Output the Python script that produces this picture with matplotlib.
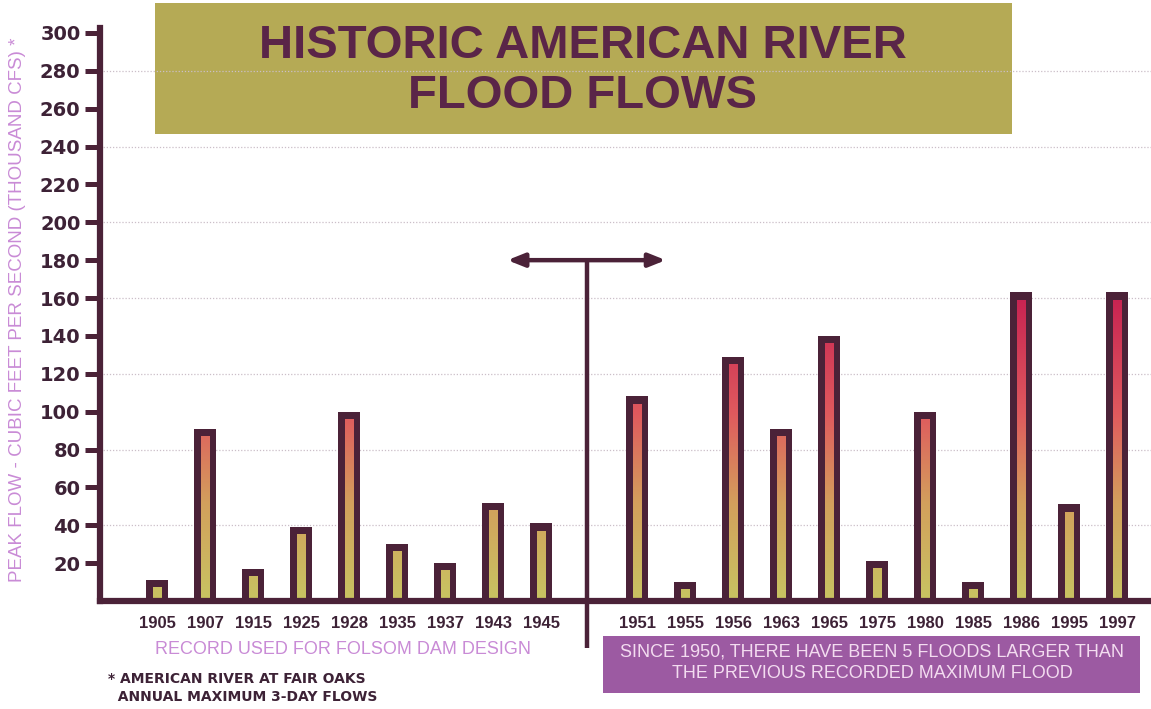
import numpy as np
import matplotlib
matplotlib.use("Agg")
import matplotlib.pyplot as plt
from matplotlib.colors import LinearSegmentedColormap
from matplotlib.patches import Rectangle

# ---- data ----
years_before = ["1905", "1907", "1915", "1925", "1928", "1935", "1937", "1943", "1945"]
flows_before = [11, 91, 17, 39, 100, 30, 20, 52, 41]
years_after = ["1951", "1955", "1956", "1963", "1965", "1975", "1980", "1985", "1986", "1995", "1997"]
flows_after = [108, 10, 129, 91, 140, 21, 100, 10, 163, 51, 163]
y_ticks = list(range(20, 301, 20))
grid_values = [40, 80, 120, 160, 200, 240, 280]

title = "HISTORIC AMERICAN RIVER\nFLOOD FLOWS"
ylabel = "PEAK FLOW - CUBIC FEET PER SECOND (THOUSAND CFS) *"
left_caption = "RECORD USED FOR FOLSOM DAM DESIGN"
right_caption = "SINCE 1950, THERE HAVE BEEN 5 FLOODS LARGER THAN\nTHE PREVIOUS RECORDED MAXIMUM FLOOD"
footnote = "* AMERICAN RIVER AT FAIR OAKS\n  ANNUAL MAXIMUM 3-DAY FLOWS"

DARK = "#4b2238"
TXT = "#3d2236"

W, H = 1151, 709
fig = plt.figure(figsize=(W / 100, H / 100), dpi=100)
fig.patch.set_facecolor("white")

def fx(px):
    return px / W

def fy(py):
    return 1 - py / H

ax = fig.add_axes([fx(100), fy(601), fx(1151) - fx(100), fy(28) - fy(601)])
ax.set_facecolor("none")
ax.set_zorder(2)

pos_before = list(range(len(years_before)))
pos_after = [len(years_before) + 1 + i for i in range(len(years_after))]
positions = pos_before + pos_after
years = years_before + years_after
flows = flows_before + flows_after

cmap = LinearSegmentedColormap.from_list(
    "flood", [(0.0, "#c8c462"), (0.3, "#d3a05c"), (0.58, "#df5a5e"), (1.0, "#c41a50")])
grad = np.linspace(0, 1, 256).reshape(-1, 1)

outer_w = 0.46
inner_w = 0.17
top_border = 3.8

ax.bar(positions, flows, width=outer_w, color=DARK, zorder=3, linewidth=0)
inner = ax.bar(positions, [f - top_border for f in flows], width=inner_w,
               color="none", linewidth=0, zorder=4)
for p, patch in zip(positions, inner.patches):
    im = ax.imshow(grad, extent=(p - inner_w / 2, p + inner_w / 2, 0, 170),
                   origin="lower", aspect="auto", cmap=cmap, zorder=4,
                   interpolation="bilinear")
    im.set_clip_path(patch)

ax.set_xlim(-57 / 48, (1151 - 157) / 48)
ax.set_ylim(0, 302.6)

# grid
for g in grid_values:
    ax.axhline(g, color="#cbbfc8", lw=0.9, ls=(0, (1, 1.5)), zorder=1)

# spines
for s in ["top", "right"]:
    ax.spines[s].set_visible(False)
ax.spines["left"].set_linewidth(4.5)
ax.spines["left"].set_color(DARK)
ax.spines["bottom"].set_linewidth(4.5)
ax.spines["bottom"].set_color(DARK)
ax.spines["bottom"].set_zorder(5)

ax.set_yticks(y_ticks)
ax.set_yticklabels([str(v) for v in y_ticks], fontfamily="DejaVu Sans",
                   fontweight="bold", fontsize=14, color=TXT)
ax.tick_params(axis="y", direction="out", length=11, width=3.6, color=DARK, pad=3)

ax.set_xticks(positions)
ax.set_xticklabels(years, fontfamily="Liberation Sans", fontweight="bold",
                   fontsize=12, color=TXT)
ax.tick_params(axis="x", length=0, pad=10.5)

# divider and arrow
div_x = len(years_before) - 0.05
ax.plot([div_x, div_x], [180, -25], color=DARK, lw=3.2, clip_on=False, zorder=6,
        solid_capstyle="butt")
ax.annotate("", xy=(10.6, 180), xytext=(7.3, 180),
            arrowprops=dict(arrowstyle="<|-|>,head_length=1.0,head_width=0.4",
                            color=DARK, lw=3.2, shrinkA=0, shrinkB=0),
            zorder=6, annotation_clip=False)

# title box
fig.patches.append(Rectangle((fx(155), fy(134)), fx(1012) - fx(155), fy(3) - fy(134),
                             transform=fig.transFigure, facecolor="#b5aa55",
                             edgecolor="none", zorder=0))
fig.text(fx(583), fy(71), title, ha="center", va="center", fontfamily="Liberation Sans",
         fontweight="bold", fontsize=34, color="#5a2548", linespacing=1.18, zorder=1)

# y label
fig.text(fx(18), fy(310), ylabel, rotation=90, ha="center", va="center",
         fontfamily="Liberation Sans", fontsize=13.5, color="#c98bd6")

# left caption
fig.text(fx(343), fy(650), left_caption, ha="center", va="center",
         fontfamily="Liberation Sans", fontsize=13, color="#c98bd6")

# footnote
fig.text(fx(108), fy(688), footnote, ha="left", va="center",
         fontfamily="DejaVu Sans", fontweight="bold", fontsize=10, color=TXT,
         linespacing=1.3)

# right caption box
fig.patches.append(Rectangle((fx(603), fy(693)), fx(1140) - fx(603), fy(636) - fy(693),
                             transform=fig.transFigure, facecolor="#9c5aa2",
                             edgecolor="none", zorder=0))
fig.text(fx(872), fy(663), right_caption, ha="center", va="center",
         fontfamily="Liberation Sans", fontsize=13, color="#f3dcf0", linespacing=1.35,
         zorder=1)

fig.savefig("out.png", dpi=100, facecolor="white")
